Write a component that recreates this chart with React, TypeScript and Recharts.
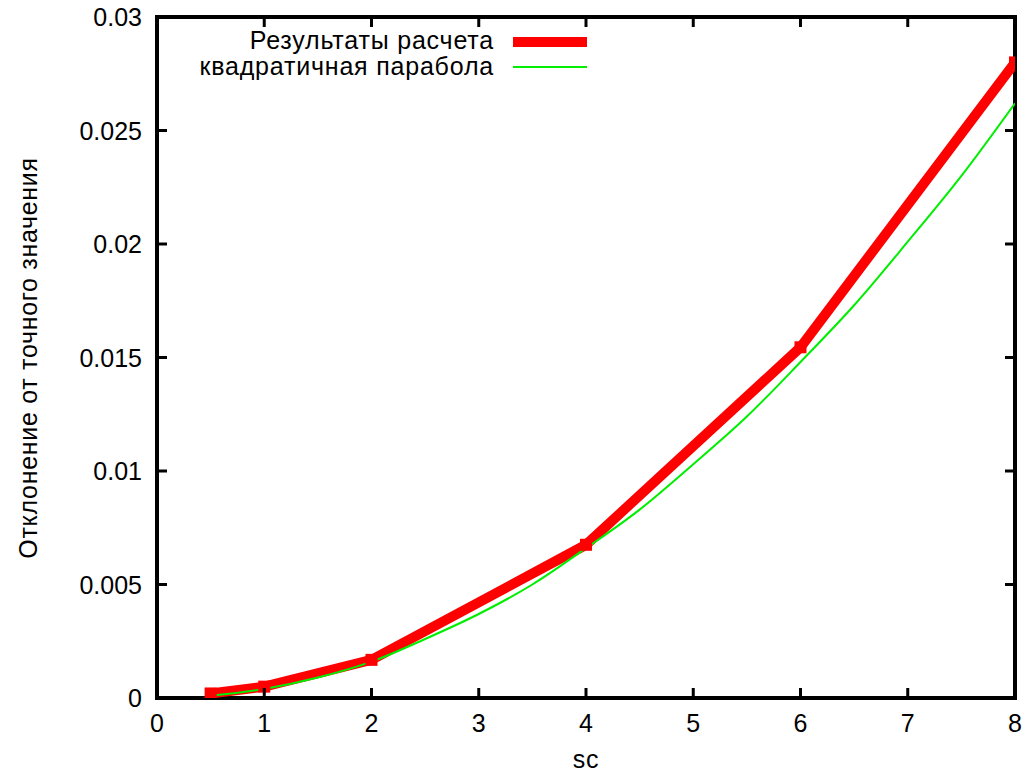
import React from 'react'
import { LineChart, Line, XAxis, YAxis, ReferenceArea } from 'recharts'

// computed deviation vs sc
const scValues = [0.5, 1, 2, 4, 6, 8]
const deviation = [0.0002, 0.0005, 0.00168, 0.00675, 0.01545, 0.028]

// quadratic fit
const parabolaX = [0.5, 1, 1.5, 2, 2.5, 3, 3.5, 4, 4.5, 5, 5.5, 6, 6.5, 7, 7.5, 8]
const parabolaY = [0.0001, 0.0004, 0.0009, 0.0016, 0.0026, 0.0037, 0.005, 0.0066, 0.0083, 0.0103, 0.0124, 0.0148, 0.0173, 0.0201, 0.023, 0.0262]

const xTicks = [0, 1, 2, 3, 4, 5, 6, 7, 8]
const yTicks = [0, 0.005, 0.01, 0.015, 0.02, 0.025, 0.03]

const seriesNames = ['Результаты расчета', 'квадратичная парабола']

const resultData = scValues.map((sc, i) => ({ sc, value: deviation[i] }))
const parabolaData = parabolaX.map((sc, i) => ({ sc, value: parabolaY[i] }))

const FONT = '"Liberation Sans", Arial, sans-serif'
const FS = 25
const TOP = 17
const BOTTOM = 698
const LEFT = 157
const RIGHT = 1015
const TICK = 10

const XTick = ({ x, payload }: any) => (
  <g>
    <line x1={x} x2={x} y1={BOTTOM} y2={BOTTOM - TICK} stroke="#000" strokeWidth={3} />
    <line x1={x} x2={x} y1={TOP} y2={TOP + TICK} stroke="#000" strokeWidth={3} />
    <text x={x} y={BOTTOM + 34} textAnchor="middle" fontSize={FS} fontFamily={FONT} fill="#000">
      {payload.value}
    </text>
  </g>
)

const YTick = ({ y, payload }: any) => (
  <g>
    <line x1={LEFT} x2={LEFT + TICK} y1={y} y2={y} stroke="#000" strokeWidth={3} />
    <line x1={RIGHT} x2={RIGHT - TICK} y1={y} y2={y} stroke="#000" strokeWidth={3} />
    <text x={LEFT - 15} y={y + 9} textAnchor="end" fontSize={FS} fontFamily={FONT} fill="#000">
      {payload.value}
    </text>
  </g>
)

const SquareDot = ({ cx, cy }: any) => (
  <rect x={cx - 6} y={cy - 6} width={12} height={12} fill="#ff0000" />
)

export default function App() {
  return (
    <div style={{ position: 'absolute', left: 0, top: 0, width: 1029, height: 778, background: '#fff' }}>
      <LineChart width={1029} height={778} margin={{ top: TOP, right: 1029 - RIGHT, bottom: 0, left: 0 }}>
        <XAxis
          dataKey="sc"
          type="number"
          domain={[0, 8]}
          ticks={xTicks}
          height={778 - BOTTOM}
          axisLine={false}
          tickLine={false}
          tick={<XTick />}
          allowDataOverflow
        />
        <YAxis
          type="number"
          domain={[0, 0.03]}
          ticks={yTicks}
          width={LEFT}
          axisLine={false}
          tickLine={false}
          tick={<YTick />}
          allowDataOverflow
        />
        <ReferenceArea x1={0} x2={8} y1={0} y2={0.03} fill="none" stroke="#000" strokeWidth={4} />
        <Line
          data={resultData}
          dataKey="value"
          name={seriesNames[0]}
          type="linear"
          stroke="#ff0000"
          strokeWidth={10}
          dot={<SquareDot />}
          isAnimationActive={false}
        />
        <Line
          data={parabolaData}
          dataKey="value"
          name={seriesNames[1]}
          type="monotone"
          stroke="#00ee00"
          strokeWidth={2}
          dot={false}
          isAnimationActive={false}
        />
      </LineChart>
      <div style={{ position: 'absolute', left: 0, top: 0, pointerEvents: 'none' }}>
        <svg width={1029} height={778}>
          <text x={494} y={49} textAnchor="end" fontSize={FS} fontFamily={FONT} letterSpacing={0.8}>{seriesNames[0]}</text>
          <line x1={513} x2={587} y1={42} y2={42} stroke="#ff0000" strokeWidth={10} />
          <text x={494} y={75} textAnchor="end" fontSize={FS} fontFamily={FONT} letterSpacing={0.8}>{seriesNames[1]}</text>
          <line x1={513} x2={587} y1={67} y2={67} stroke="#00ee00" strokeWidth={2} />
          <text x={586} y={768} textAnchor="middle" fontSize={FS} fontFamily={FONT} letterSpacing={0.8}>sc</text>
          <text
            x={37}
            y={358}
            textAnchor="middle"
            fontSize={FS}
            fontFamily={FONT}
            letterSpacing={0.7}
            transform="rotate(-90 37 358)"
          >
            Отклонение от точного значения
          </text>
        </svg>
      </div>
    </div>
  )
}
